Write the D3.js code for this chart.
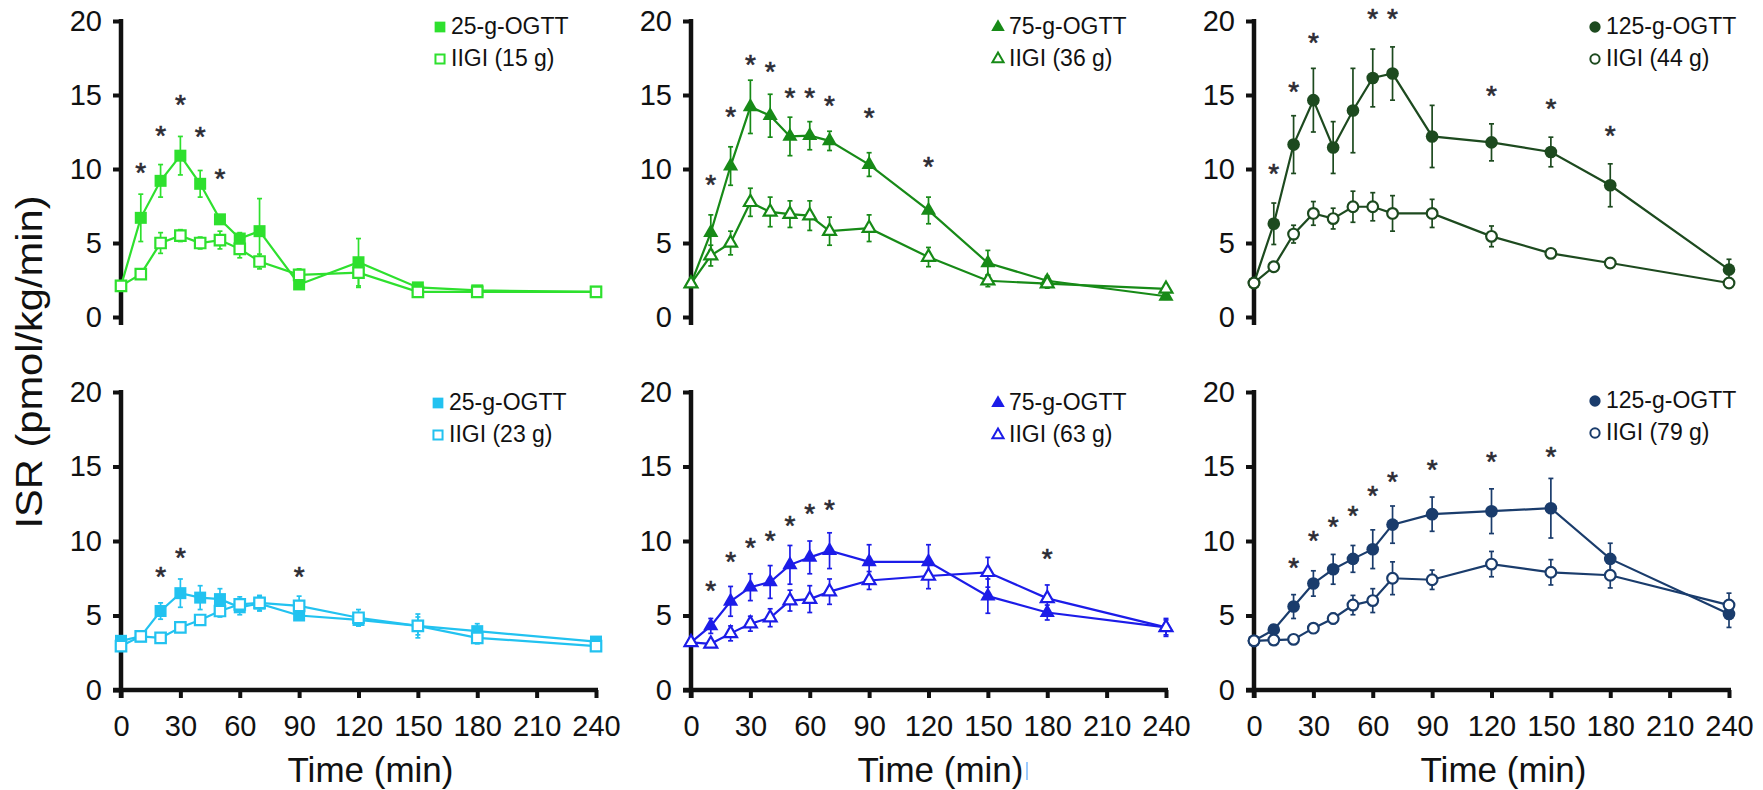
<!DOCTYPE html>
<html>
<head>
<meta charset="utf-8">
<script src="https://cdn.jsdelivr.net/npm/d3@7"></script>
<style>
  html, body { margin: 0; padding: 0; background: #ffffff; }
  svg { display: block; }
</style>
</head>
<body>
<svg id="chart" width="1763" height="790"></svg>
<script>
// Sampling times (min) shared by every series
const times = [0, 10, 20, 30, 40, 50, 60, 70, 90, 120, 150, 180, 240];
const timeTicks = [0, 30, 60, 90, 120, 150, 180, 210, 240];
const isrTicks = [0, 5, 10, 15, 20];

// Top row
const ogtt25Top      = [2.1, 6.7, 9.2, 10.9, 9.0, 6.6, 5.3, 5.8, 2.2, 3.7, 2.0, 1.8, 1.7];
const ogtt25TopSe    = [0.2, 1.6, 1.1, 1.3, 0.9, 0.3, 0.4, 2.2, 0.3, 1.6, 0.2, 0.2, 0.1];
const iigi15         = [2.1, 2.9, 5.0, 5.5, 5.0, 5.2, 4.6, 3.75, 2.85, 3.0, 1.7, 1.7, 1.7];
const iigi15Se       = [0.2, 0.3, 0.7, 0.4, 0.4, 0.6, 0.6, 0.5, 0.4, 1.0, 0.2, 0.2, 0.1];
const sig25TopTimes  = [10, 20, 30, 40, 50];
const sig25TopY      = [10.2, 12.7, 14.8, 12.6, 9.8];

const ogtt75Top      = [2.25, 5.7, 10.2, 14.2, 13.6, 12.2, 12.25, 11.9, 10.3, 7.2, 3.65, 2.45, 1.4];
const ogtt75TopSe    = [0.2, 1.2, 1.3, 1.8, 1.45, 1.3, 0.95, 0.65, 0.8, 0.9, 0.85, 0.3, 0.2];
const iigi36         = [2.25, 4.15, 5.0, 7.75, 7.1, 6.95, 6.85, 5.8, 6.0, 4.05, 2.45, 2.25, 1.9];
const iigi36Se       = [0.2, 0.7, 0.8, 0.95, 1.0, 0.9, 1.0, 0.95, 0.9, 0.65, 0.4, 0.3, 0.2];
const sig75TopTimes  = [10, 20, 30, 40, 50, 60, 70, 90, 120];
const sig75TopY      = [9.4, 14.0, 17.5, 17.0, 15.3, 15.3, 14.7, 13.9, 10.6];

const ogtt125Top     = [2.3, 6.3, 11.65, 14.65, 11.45, 13.95, 16.15, 16.45, 12.2, 11.8, 11.15, 8.9, 3.2];
const ogtt125TopSe   = [0.2, 1.4, 1.95, 2.15, 1.75, 2.85, 1.95, 1.8, 2.1, 1.25, 1.0, 1.45, 0.7];
const iigi44         = [2.3, 3.4, 5.6, 7.0, 6.65, 7.45, 7.45, 7.0, 7.0, 5.45, 4.3, 3.65, 2.3];
const iigi44Se       = [0.2, 0.3, 0.6, 0.8, 0.7, 1.05, 0.95, 1.2, 0.95, 0.7, 0.3, 0.3, 0.2];
const sig125TopTimes = [10, 20, 30, 60, 70, 120, 150, 180];
const sig125TopY     = [10.15, 15.7, 19.0, 20.6, 20.6, 15.4, 14.5, 12.7];

// Bottom row
const ogtt25Bot      = [3.3, 3.6, 5.3, 6.5, 6.2, 6.1, 5.55, 5.8, 5.0, 4.7, 4.3, 3.95, 3.25];
const ogtt25BotSe    = [0.2, 0.3, 0.55, 0.95, 0.8, 0.7, 0.5, 0.5, 0.3, 0.4, 0.6, 0.5, 0.2];
const iigi23         = [2.95, 3.6, 3.5, 4.2, 4.7, 5.3, 5.75, 5.85, 5.65, 4.85, 4.3, 3.5, 2.95];
const iigi23Se       = [0.2, 0.3, 0.2, 0.3, 0.3, 0.4, 0.5, 0.5, 0.65, 0.55, 0.8, 0.4, 0.3];
const sig25BotTimes  = [20, 30, 90];
const sig25BotY      = [8.05, 9.3, 8.05];

const ogtt75Bot      = [3.2, 4.3, 5.95, 6.9, 7.25, 8.4, 8.9, 9.35, 8.6, 8.6, 6.3, 5.2, 4.2];
const ogtt75BotSe    = [0.2, 0.5, 1.0, 0.9, 1.1, 1.3, 1.1, 1.2, 1.15, 1.15, 1.15, 0.5, 0.6];
const iigi63         = [3.2, 3.1, 3.8, 4.45, 4.85, 6.0, 6.1, 6.6, 7.35, 7.65, 7.9, 6.15, 4.2];
const iigi63Se       = [0.2, 0.2, 0.5, 0.5, 0.6, 0.7, 0.9, 0.85, 0.6, 0.85, 1.0, 0.9, 0.5];
const sig75BotTimes  = [10, 20, 30, 40, 50, 60, 70, 180];
const sig75BotY      = [7.1, 9.05, 10.0, 10.5, 11.5, 12.25, 12.55, 9.25];

const ogtt125Bot     = [3.3, 4.05, 5.6, 7.15, 8.1, 8.8, 9.45, 11.1, 11.8, 12.0, 12.2, 8.8, 5.1];
const ogtt125BotSe   = [0.2, 0.3, 0.8, 0.85, 1.0, 0.9, 1.3, 1.25, 1.15, 1.5, 2.0, 1.05, 0.9];
const iigi79         = [3.3, 3.35, 3.4, 4.15, 4.8, 5.7, 6.0, 7.5, 7.4, 8.45, 7.9, 7.7, 5.7];
const iigi79Se       = [0.2, 0.2, 0.2, 0.3, 0.35, 0.65, 0.8, 1.1, 0.65, 0.85, 0.85, 0.85, 0.8];
const sig125BotTimes = [20, 30, 40, 50, 60, 70, 90, 120, 150];
const sig125BotY     = [8.65, 10.5, 11.4, 12.15, 13.5, 14.4, 15.2, 15.75, 16.1];

// Panel layout and styling
const panels = [
  { col: 0, row: 0, color: "#2ee02e", shape: "square",
    ogtt: ogtt25Top, ogttSe: ogtt25TopSe, iigi: iigi15, iigiSe: iigi15Se,
    sigT: sig25TopTimes, sigY: sig25TopY,
    labels: ["25-g-OGTT", "IIGI (15 g)"], legendDx: 330, legendDy: 34 },
  { col: 1, row: 0, color: "#178a17", shape: "triangle",
    ogtt: ogtt75Top, ogttSe: ogtt75TopSe, iigi: iigi36, iigiSe: iigi36Se,
    sigT: sig75TopTimes, sigY: sig75TopY,
    labels: ["75-g-OGTT", "IIGI (36 g)"], legendDx: 318, legendDy: 34 },
  { col: 2, row: 0, color: "#1d4a1f", shape: "circle",
    ogtt: ogtt125Top, ogttSe: ogtt125TopSe, iigi: iigi44, iigiSe: iigi44Se,
    sigT: sig125TopTimes, sigY: sig125TopY,
    labels: ["125-g-OGTT", "IIGI (44 g)"], legendDx: 352, legendDy: 34 },
  { col: 0, row: 1, color: "#22c2f0", shape: "square",
    ogtt: ogtt25Bot, ogttSe: ogtt25BotSe, iigi: iigi23, iigiSe: iigi23Se,
    sigT: sig25BotTimes, sigY: sig25BotY,
    labels: ["25-g-OGTT", "IIGI (23 g)"], legendDx: 328, legendDy: 410 },
  { col: 1, row: 1, color: "#1c1ce8", shape: "triangle",
    ogtt: ogtt75Bot, ogttSe: ogtt75BotSe, iigi: iigi63, iigiSe: iigi63Se,
    sigT: sig75BotTimes, sigY: sig75BotY,
    labels: ["75-g-OGTT", "IIGI (63 g)"], legendDx: 318, legendDy: 410 },
  { col: 2, row: 1, color: "#1a3c6c", shape: "circle",
    ogtt: ogtt125Bot, ogttSe: ogtt125BotSe, iigi: iigi79, iigiSe: iigi79Se,
    sigT: sig125BotTimes, sigY: sig125BotY,
    labels: ["125-g-OGTT", "IIGI (79 g)"], legendDx: 352, legendDy: 408 }
];

const colX0 = [121, 691, 1254];
const colWidth = 475;
const rowY = [[317, 21], [690, 392]];

const textFont = "'Liberation Sans', Arial, sans-serif";

const svg = d3.select("#chart");

const symbolType = { square: d3.symbolSquare, triangle: d3.symbolTriangle, circle: d3.symbolCircle };
const symbolSize = {
  square:   { filled: 144, open: 110 },
  triangle: { filled: 100, open: 72 },
  circle:   { filled: 125, open: 90 }
};

function drawPanel(p) {
  const x = d3.scaleLinear().domain([0, 240]).range([colX0[p.col], colX0[p.col] + colWidth]);
  const y = d3.scaleLinear().domain([0, 20]).range(rowY[p.row]);
  const g = svg.append("g");

  // y axis
  const yAxis = d3.axisLeft(y).tickValues(isrTicks).tickSize(8).tickSizeOuter(0).tickPadding(11);
  const ya = g.append("g").attr("transform", `translate(${x(0)},0)`).call(yAxis);
  ya.select(".domain").remove();
  ya.selectAll(".tick line").attr("stroke", "#111").attr("stroke-width", 4);
  ya.selectAll(".tick text").attr("font-family", textFont).attr("font-size", 29).attr("fill", "#111");
  g.append("line")
    .attr("x1", x(0)).attr("x2", x(0))
    .attr("y1", y(20) - 2).attr("y2", y(0) + 8)
    .attr("stroke", "#111").attr("stroke-width", 4.5);

  // x axis (bottom row only)
  if (p.row === 1) {
    const xAxis = d3.axisBottom(x).tickValues(timeTicks).tickSize(8).tickSizeOuter(0).tickPadding(17);
    const xa = g.append("g").attr("transform", `translate(0,${y(0)})`).call(xAxis);
    xa.select(".domain").remove();
    xa.selectAll(".tick line").attr("stroke", "#111").attr("stroke-width", 4);
    xa.selectAll(".tick text").attr("font-family", textFont).attr("font-size", 29).attr("fill", "#111");
    g.append("line")
      .attr("x1", x(0) - 8).attr("x2", x(240) + 2)
      .attr("y1", y(0)).attr("y2", y(0))
      .attr("stroke", "#111").attr("stroke-width", 4.5);
    g.append("text")
      .attr("x", (x(0) + x(240)) / 2 + 12).attr("y", 782)
      .attr("text-anchor", "middle")
      .attr("font-family", textFont).attr("font-size", 35).attr("fill", "#111")
      .text("Time (min)");
  }

  const line = d3.line().x((d, i) => x(times[i])).y(d => y(d));

  // series: filled OGTT first, then open IIGI on top
  [[p.ogtt, p.ogttSe, true], [p.iigi, p.iigiSe, false]].forEach(([vals, se, filled]) => {
    g.append("path").datum(vals)
      .attr("d", line).attr("fill", "none")
      .attr("stroke", p.color).attr("stroke-width", 2.2);

    const eb = g.append("g").attr("stroke", p.color).attr("stroke-width", 1.7);
    vals.forEach((v, i) => {
      const cx = x(times[i]);
      const top = y(v + se[i]), bot = y(v - se[i]);
      eb.append("line").attr("x1", cx).attr("x2", cx).attr("y1", top).attr("y2", bot);
      eb.append("line").attr("x1", cx - 2.5).attr("x2", cx + 2.5).attr("y1", top).attr("y2", top);
      eb.append("line").attr("x1", cx - 2.5).attr("x2", cx + 2.5).attr("y1", bot).attr("y2", bot);
    });

    const sym = d3.symbol().type(symbolType[p.shape])
      .size(filled ? symbolSize[p.shape].filled : symbolSize[p.shape].open);
    g.append("g").selectAll("path").data(vals).join("path")
      .attr("d", sym)
      .attr("transform", (d, i) => `translate(${x(times[i])},${y(d)})`)
      .attr("fill", filled ? p.color : "#ffffff")
      .attr("stroke", p.color)
      .attr("stroke-width", filled ? 0 : 2.2);
  });

  // significance markers
  const starSize = 28;
  g.append("g").selectAll("text").data(p.sigY).join("text")
    .attr("x", (d, i) => x(p.sigT[i]))
    .attr("y", d => y(d) + starSize * 0.57)
    .attr("text-anchor", "middle")
    .attr("font-family", textFont).attr("font-size", starSize)
    .attr("fill", "#2b2b33").attr("stroke", "#2b2b33").attr("stroke-width", 0.6)
    .text("*");

  // legend
  const lx = colX0[p.col] + p.legendDx;
  p.labels.forEach((lab, k) => {
    const by = p.legendDy + k * 32;
    const filled = k === 0;
    const sym = d3.symbol().type(symbolType[p.shape])
      .size(filled ? symbolSize[p.shape].filled * 0.8 : symbolSize[p.shape].open * 0.75);
    g.append("path").attr("d", sym)
      .attr("transform", `translate(${lx - 11},${by - 7})`)
      .attr("fill", filled ? p.color : "#ffffff")
      .attr("stroke", p.color).attr("stroke-width", filled ? 0 : 2);
    g.append("text").attr("x", lx).attr("y", by)
      .attr("font-family", textFont).attr("font-size", 23).attr("fill", "#111")
      .text(lab);
  });
}

panels.forEach(drawPanel);

// shared y-axis title
svg.append("text")
  .attr("transform", "translate(42,362) rotate(-90)")
  .attr("text-anchor", "middle")
  .attr("font-family", textFont).attr("font-size", 37)
  .attr("textLength", 333).attr("lengthAdjust", "spacingAndGlyphs")
  .attr("fill", "#111")
  .text("ISR (pmol/kg/min)");

// small stray tick beside the middle axis title
svg.append("line")
  .attr("x1", 1027).attr("x2", 1027).attr("y1", 762).attr("y2", 780)
  .attr("stroke", "#5aa8ff").attr("stroke-width", 1.2);
</script>
</body>
</html>
